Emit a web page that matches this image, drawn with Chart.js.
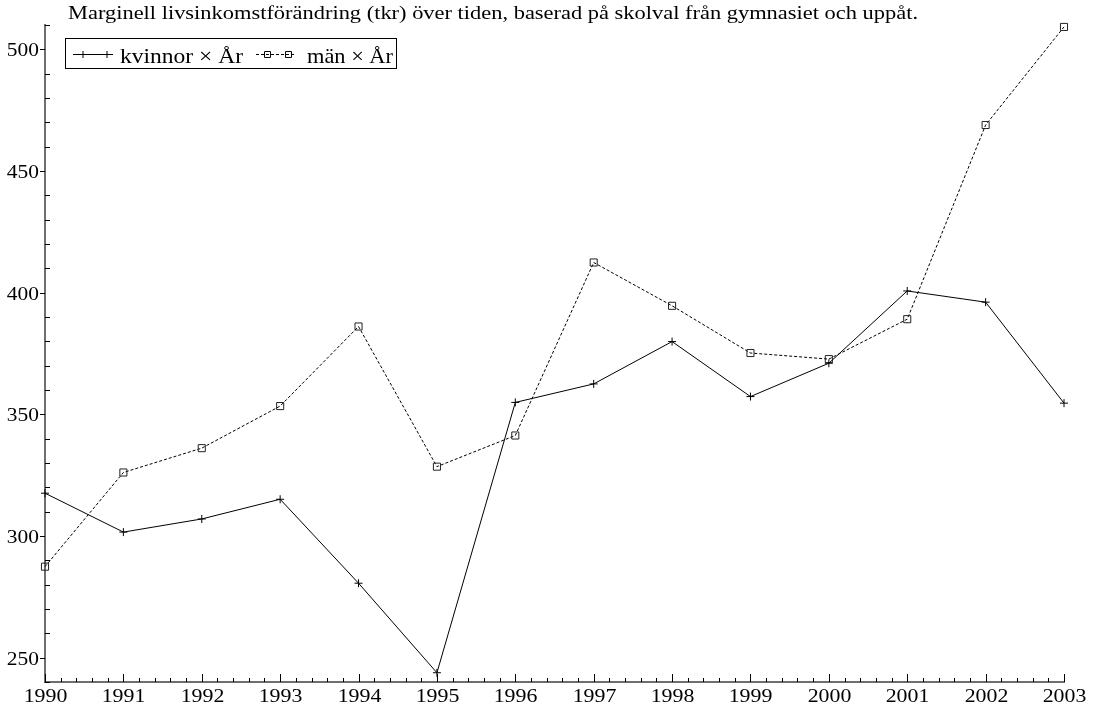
<!DOCTYPE html>
<html>
<head>
<meta charset="utf-8">
<script src="https://cdn.jsdelivr.net/npm/chart.js@4/dist/chart.umd.min.js"></script>
<style>
  html, body { margin: 0; padding: 0; background: #fff; }
  canvas { display: block; }
  .preload { font-family: "Liberation Serif"; position: absolute; left: -9999px; top: 0; }
</style>
</head>
<body>
<span class="preload">Marginell 0123456789 × År</span>
<canvas id="c" width="1101" height="708"></canvas>
<script>
// Marginal lifetime income change (tkr) per year, women vs. men
const titleText = 'Marginell livsinkomstförändring (tkr) över tiden, baserad på skolval från gymnasiet och uppåt.';
const years = [1990, 1991, 1992, 1993, 1994, 1995, 1996, 1997, 1998, 1999, 2000, 2001, 2002, 2003];
const kvinnor = [317.6, 301.6, 307.0, 315.1, 280.6, 243.8, 354.9, 362.5, 379.9, 357.3, 371.0, 400.7, 396.1, 354.6];
const man = [287.4, 326.1, 336.1, 353.4, 386.1, 328.5, 341.3, 412.4, 394.6, 375.2, 372.7, 389.1, 468.9, 509.2];
const seriesNames = ['kvinnor × År', 'män × År'];
const yTicks = [250, 300, 350, 400, 450, 500];
const yMin = 240, yMax = 510, yMinorStep = 10;
const xMinorPerYear = 5;

const SERIF = '"Liberation Serif", "Times New Roman", serif';

// Horizontally stretched text (the typeface is set wide)
function drawText(ctx, text, x, y, size, sx, align) {
  ctx.save();
  ctx.font = size + 'px ' + SERIF;
  ctx.fillStyle = '#000';
  ctx.textAlign = align;
  ctx.textBaseline = 'alphabetic';
  ctx.translate(x, y);
  ctx.scale(sx, 1);
  ctx.fillText(text, 0, 0);
  ctx.restore();
}
// Text stretched to run from x0 to x1
function fitText(ctx, text, x0, x1, y, size) {
  ctx.save();
  ctx.font = size + 'px ' + SERIF;
  const w = ctx.measureText(text).width;
  ctx.restore();
  drawText(ctx, text, x0, y, size, (x1 - x0) / w, 'left');
}

function seg(ctx, x0, y0, x1, y1) {
  ctx.beginPath();
  ctx.moveTo(x0, y0);
  ctx.lineTo(x1, y1);
  ctx.stroke();
}

const decor = {
  id: 'decor',
  afterDraw(chart) {
    const ctx = chart.ctx;
    const xs = chart.scales.x, ys = chart.scales.y;
    const area = chart.chartArea;
    ctx.save();
    ctx.strokeStyle = '#000';
    ctx.lineWidth = 1;

    // y axis: major ticks outside, minor ticks inside
    for (const v of yTicks) {
      const py = Math.round(ys.getPixelForValue(v)) + 0.5;
      seg(ctx, area.left - 5, py, area.left, py);
      drawText(ctx, String(v), area.left - 6, py + 6.5, 19.5, 1.1, 'right');
    }
    for (let v = yMin; v <= yMax; v += yMinorStep) {
      if (yTicks.includes(v)) continue;
      const py = Math.round(ys.getPixelForValue(v)) + 0.5;
      seg(ctx, area.left, py, area.left + 5, py);
    }

    // x axis: major and minor ticks pointing inward
    years.forEach((yr, i) => {
      const px = Math.round(xs.getPixelForValue(yr)) + 0.5;
      seg(ctx, px, area.bottom, px, area.bottom - 8);
      drawText(ctx, String(yr), px, 702, 19.5, 1.12, 'center');
      if (i < years.length - 1) {
        for (let k = 1; k < xMinorPerYear; k++) {
          const mx = Math.round(xs.getPixelForValue(yr + k / xMinorPerYear)) + 0.5;
          seg(ctx, mx, area.bottom, mx, area.bottom - 4);
        }
      }
    });

    // title
    fitText(ctx, titleText, 68, 918, 19, 18);

    // legend
    const ds = chart.data.datasets;
    ctx.strokeRect(65.5, 38.5, 331, 30);
    const ly = 54.5;
    // kvinnor sample
    ctx.setLineDash([]);
    seg(ctx, 73, ly, 113, ly);
    [83, 107].forEach(px => Chart.helpers.drawPoint(ctx, {
      pointStyle: ds[0].pointStyle, radius: 3.5, borderWidth: 1, rotation: 0
    }, px, ly));
    fitText(ctx, seriesNames[0], 120, 243, 62.5, 22);
    // män sample
    ctx.setLineDash(ds[1].borderDash);
    seg(ctx, 256, ly, 295, ly);
    ctx.setLineDash([]);
    [267.5, 288.5].forEach(px => Chart.helpers.drawPoint(ctx, {
      pointStyle: ds[1].pointStyle, radius: 4.2, borderWidth: 1, rotation: 0
    }, px, ly));
    fitText(ctx, seriesNames[1], 307, 393, 62.5, 22);

    ctx.restore();
  }
};

function build() {
  new Chart(document.getElementById('c'), {
    type: 'line',
    data: {
      datasets: [
        {
          label: seriesNames[0],
          data: years.map((yr, i) => ({ x: yr, y: kvinnor[i] })),
          borderColor: '#000',
          borderWidth: 1,
          pointStyle: 'cross',
          pointRadius: 4,
          pointBorderColor: '#000',
          pointBorderWidth: 1,
          pointBackgroundColor: 'transparent',
          tension: 0,
          clip: false
        },
        {
          label: seriesNames[1],
          data: years.map((yr, i) => ({ x: yr, y: man[i] })),
          borderColor: '#000',
          borderWidth: 1,
          borderDash: [3, 2],
          pointStyle: 'rect',
          pointRadius: 5,
          pointBorderColor: '#222',
          pointBorderWidth: 1,
          pointBackgroundColor: 'transparent',
          tension: 0,
          clip: false
        }
      ]
    },
    options: {
      responsive: false,
      animation: false,
      devicePixelRatio: 1,
      layout: { padding: { top: 25, right: 37, left: 0, bottom: 0 } },
      plugins: {
        legend: { display: false },
        tooltip: { enabled: false },
        title: { display: false }
      },
      scales: {
        x: {
          type: 'linear',
          min: years[0],
          max: years[years.length - 1],
          grid: { display: false },
          border: { display: true, color: '#6e6e6e', width: 2 },
          ticks: { display: false },
          afterBuildTicks: s => { s.ticks = years.map(v => ({ value: v })); },
          afterFit: s => { s.height = 26; }
        },
        y: {
          type: 'linear',
          min: yMin,
          max: yMax,
          grid: { display: false },
          border: { display: true, color: '#6e6e6e', width: 2 },
          ticks: { display: false },
          afterBuildTicks: s => { s.ticks = yTicks.map(v => ({ value: v })); },
          afterFit: s => { s.width = 45; }
        }
      }
    },
    plugins: [decor]
  });
}

if (document.fonts && document.fonts.load) {
  document.fonts.load('19px "Liberation Serif"', 'Marginell 0123456789 × År').then(build, build);
} else {
  build();
}
</script>
</body>
</html>
